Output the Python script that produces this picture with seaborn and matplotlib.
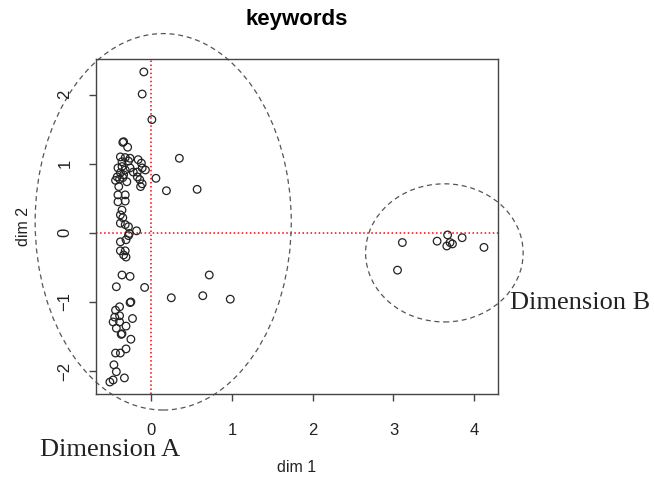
import numpy as np
import pandas as pd
import seaborn as sns
import matplotlib.pyplot as plt
from matplotlib.patches import Ellipse

plt.rcParams["font.family"] = ["Liberation Sans", "DejaVu Sans"]

# MDS coordinates of the keywords
dim1 = [
    -0.09, -0.11, 0.01, -0.35, -0.34, -0.29, 0.35,
    -0.38, -0.32, -0.26, -0.36, -0.16, -0.12, -0.28,
    -0.41, -0.36, -0.32, -0.38, -0.34, -0.42, -0.26, -0.22, -0.17, -0.11,
    -0.07, -0.17, -0.14, -0.11, -0.44, -0.30, -0.39, -0.35, 0.06, 0.19,
    0.57, -0.40, -0.13,
    -0.41, -0.32, -0.41, -0.32, -0.36, -0.38, -0.35, -0.38, -0.32, -0.28,
    -0.18, -0.27, -0.28,
    -0.38, -0.31, -0.38, -0.32, -0.34, -0.31, -0.36, -0.26, -0.43, -0.08,
    0.25, 0.64, 0.98, 0.72,
    -0.26, -0.25, -0.39, -0.44, -0.39, -0.45, -0.23, -0.47, -0.39, -0.31,
    -0.43, -0.37, -0.36, -0.25, -0.44, -0.38, -0.31, -0.46, -0.43, -0.33,
    -0.51, -0.47,
    3.11, 3.05, 3.54, 3.67, 3.66, 3.73, 3.70, 3.85, 4.12,
]
dim2 = [
    2.33, 2.01, 1.64, 1.31, 1.32, 1.24, 1.08,
    1.10, 1.09, 1.08, 1.03, 1.06, 1.01, 1.04,
    0.94, 0.96, 0.91, 0.87, 0.84, 0.81, 0.94, 0.88, 0.88, 0.94,
    0.91, 0.81, 0.77, 0.71, 0.76, 0.74, 0.78, 0.80, 0.79, 0.61,
    0.63, 0.67, 0.67,
    0.55, 0.55, 0.45, 0.46, 0.33, 0.26, 0.22, 0.14, 0.12, 0.09,
    0.03, -0.01, -0.04,
    -0.13, -0.10, -0.26, -0.26, -0.32, -0.35, -0.61, -0.63, -0.78, -0.79,
    -0.94, -0.91, -0.96, -0.61,
    -1.01, -1.00, -1.07, -1.12, -1.20, -1.22, -1.24, -1.29, -1.29, -1.35,
    -1.38, -1.47, -1.46, -1.54, -1.74, -1.74, -1.68, -1.91, -2.01, -2.10,
    -2.16, -2.13,
    -0.14, -0.54, -0.12, -0.03, -0.19, -0.16, -0.14, -0.07, -0.21,
]

# groups drawn as dashed ellipses: (label, centre x, centre y, width, height)
groups = [
    ("Dimension A", 0.15, 0.16, 3.17, 5.45),
    ("Dimension B", 3.63, -0.29, 1.95, 2.00),
]

df = pd.DataFrame({"dim1": dim1, "dim2": dim2})

fig = plt.figure(figsize=(6.54, 4.82), dpi=100)
ax = fig.add_axes([0.147, 0.183, 0.614, 0.695])

ax.axhline(0, color="red", linestyle=":", linewidth=1.1, zorder=1)
ax.axvline(0, color="red", linestyle=":", linewidth=1.1, zorder=1)

sns.scatterplot(data=df, x="dim1", y="dim2", ax=ax, s=30,
                marker="o", edgecolor="#222222", linewidth=0.9, zorder=3)
ax.collections[-1].set_facecolor("none")

for label, cx, cy, w, h in groups:
    ax.add_patch(Ellipse((cx, cy), w, h, fill=False, edgecolor="#555555",
                         linestyle=(0, (4, 3)), linewidth=0.9, clip_on=False))

ax.set_xlim(-0.68, 4.29)
ax.set_ylim(-2.33, 2.52)
ax.set_xticks([0, 1, 2, 3, 4])
ax.set_yticks([-2, -1, 0, 1, 2])

for sp in ax.spines.values():
    sp.set_color("#444444")
    sp.set_linewidth(1.0)
ax.tick_params(axis="both", length=5, width=1.0, color="#444444",
               labelsize=12, labelcolor="#222222")
ax.tick_params(axis="x", pad=16)
ax.tick_params(axis="y", pad=12)
for lab in ax.get_yticklabels():
    lab.set_rotation(90)
    lab.set_va("center")

ax.set_xlabel("dim 1", fontsize=11.5, color="#222222", labelpad=16)
ax.set_ylabel("dim 2", fontsize=11.5, color="#222222", labelpad=19)
ax.set_title("keywords", fontsize=16, fontweight="bold", pad=24)

serif = ["Liberation Serif", "DejaVu Serif"]
fig.text(40 / 654, 1 - 450 / 482, groups[0][0], family=serif, fontsize=19,
         va="center", ha="left", color="#222222")
fig.text(510 / 654, 1 - 303 / 482, groups[1][0], family=serif, fontsize=19,
         va="center", ha="left", color="#222222")

fig.savefig("out.png", dpi=100)
